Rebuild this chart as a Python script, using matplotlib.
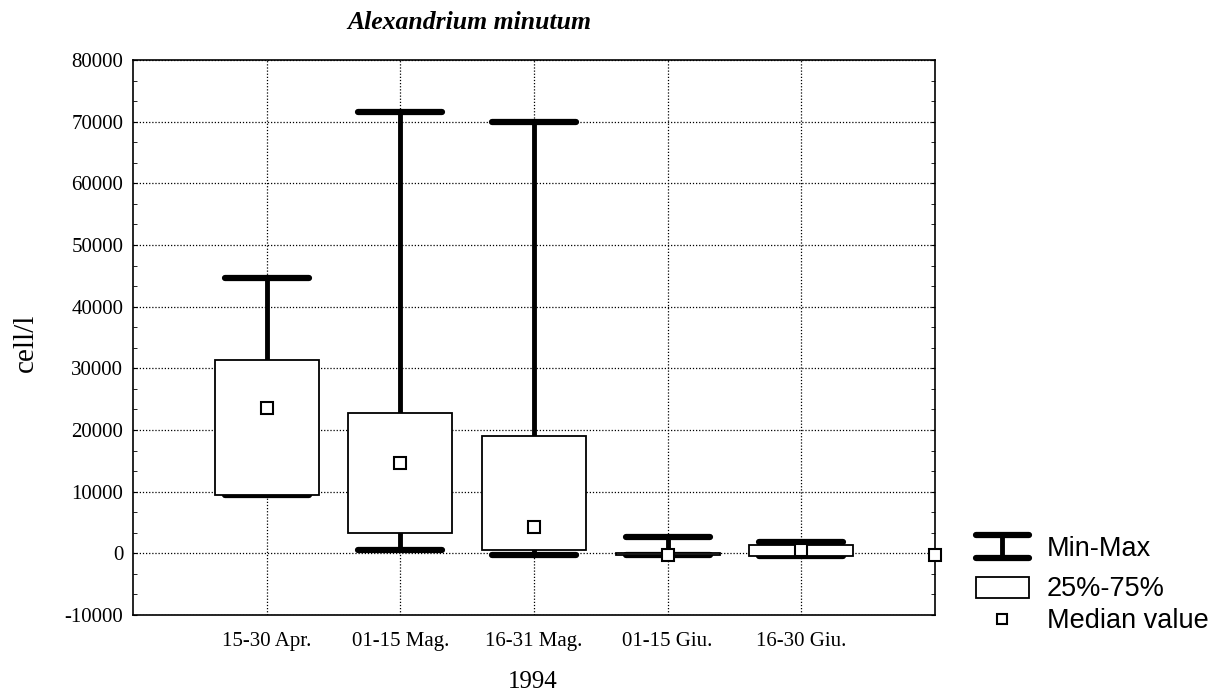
import matplotlib
matplotlib.use("Agg")
import matplotlib.pyplot as plt
from matplotlib.lines import Line2D
from matplotlib.patches import Rectangle
from matplotlib.ticker import MultipleLocator

# --- data ---------------------------------------------------------------------
periods = ["15-30 Apr.", "01-15 Mag.", "16-31 Mag.", "01-15 Giu.", "16-30 Giu."]
v_min = [9500, 600, -200, -300, -500]
q25 = [9500, 3300, 500, -300, -400]
median = [23500, 14700, 4200, -300, 500]
q75 = [31300, 22700, 19000, 0, 1400]
v_max = [44700, 71500, 70000, 2700, 1900]
edge_median = -300  # median marker clipped at the right edge

plt.rcParams["font.family"] = ["Liberation Serif", "DejaVu Serif"]

fig = plt.figure(figsize=(12.28, 6.93), dpi=100)
ax = fig.add_axes([0.1083, 0.1126, 0.6531, 0.8008])

box_w = 0.78
cap_w = 0.63
xs = list(range(1, len(periods) + 1))
for x, lo, a, m, b, hi in zip(xs, v_min, q25, median, q75, v_max):
    ax.plot([x, x], [lo, hi], color="black", lw=3.5, solid_capstyle="butt", zorder=2)
    ax.plot([x - cap_w / 2, x + cap_w / 2], [hi, hi], color="black", lw=4.5,
            solid_capstyle="round", zorder=3)
    ax.plot([x - cap_w / 2, x + cap_w / 2], [lo, lo], color="black", lw=4.5,
            solid_capstyle="round", zorder=3)
    ax.add_patch(Rectangle((x - box_w / 2, a), box_w, b - a, facecolor="white",
                           edgecolor="black", lw=1.3, zorder=4))
    ax.plot(x, m, marker="s", ms=8, mfc="white", mec="black", mew=1.5, zorder=5)
ax.plot(6, edge_median, marker="s", ms=8, mfc="white", mec="black", mew=1.5,
        zorder=5, clip_on=False)

ax.set_xlim(0, 6)
ax.set_ylim(-10000, 80000)
ax.set_xticks(xs)
ax.set_xticklabels(periods, fontsize=15)
ax.yaxis.set_major_locator(MultipleLocator(10000))
ax.yaxis.set_minor_locator(MultipleLocator(10000 / 3))
ax.set_yticklabels([f"{int(v)}" for v in ax.get_yticks()], fontsize=15)
ax.set_ylim(-10000, 80000)
ax.tick_params(axis="both", which="both", direction="in", right=True, top=True, length=3)
ax.tick_params(axis="y", pad=7)
ax.tick_params(axis="x", length=0, pad=12)
ax.grid(True, which="major", color="black", linestyle=(0, (1, 1.5)), lw=0.9)
for s in ax.spines.values():
    s.set_linewidth(1.2)

ax.text(26 / 1228, 0.505, "cell/l", fontsize=21, rotation=90, ha="center",
        va="center", transform=fig.transFigure)
fig.text(0.434, 1 - 682 / 693, "1994", fontsize=18, ha="center", va="center")
fig.text(0.382, 0.967, "Alexandrium minutum", fontsize=18.5, fontweight="bold",
         fontstyle="italic", ha="center", va="center")

# --- legend drawn by hand ---------------------------------------------------
lx0, lx1, lxc = 976 / 1228, 1029 / 1228, 1002 / 1228
def fy(p):
    return 1 - p / 693

fig.add_artist(Line2D([lx0, lx1], [fy(535), fy(535)], color="black", lw=4.5,
                      solid_capstyle="round"))
fig.add_artist(Line2D([lx0, lx1], [fy(558), fy(558)], color="black", lw=4.5,
                      solid_capstyle="round"))
fig.add_artist(Line2D([lxc, lxc], [fy(535), fy(558)], color="black", lw=3.5))
fig.add_artist(Rectangle((lx0, fy(598)), lx1 - lx0, fy(577) - fy(598),
                         transform=fig.transFigure, facecolor="white",
                         edgecolor="black", lw=1.3))
fig.add_artist(Line2D([lxc], [fy(619)], marker="s", ms=7, mfc="white", mec="black",
                      mew=1.5))
lab_kw = dict(fontsize=19.5, family=["Liberation Sans", "DejaVu Sans"], va="center",
              ha="left")
fig.text(1047 / 1228, fy(549), "Min-Max", **lab_kw)
fig.text(1047 / 1228, fy(589), "25%-75%", **lab_kw)
fig.text(1047 / 1228, fy(621), "Median value", **lab_kw)

fig.savefig("out.png", dpi=100)
